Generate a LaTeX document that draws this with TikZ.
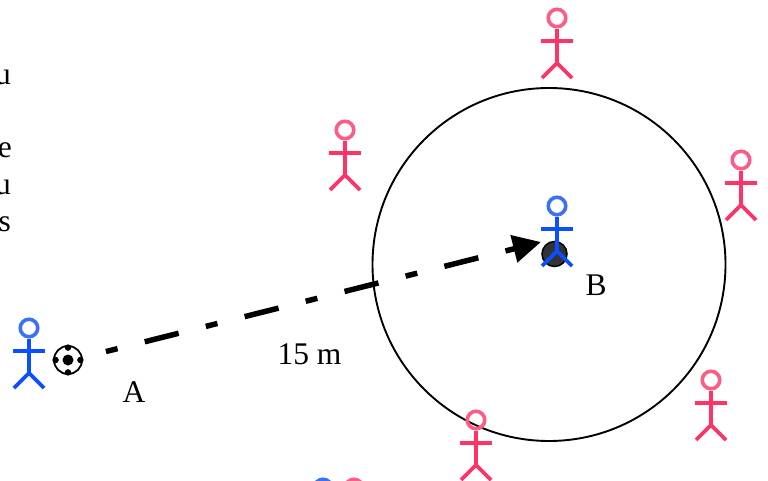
\documentclass[tikz,border=0pt]{standalone}
\usepackage{fontspec}
\setmainfont{Liberation Serif}
\usetikzlibrary{arrows.meta}

\definecolor{bluebody}{HTML}{0A50FF}
\definecolor{bluehead}{HTML}{3D70F5}
\definecolor{redbody}{HTML}{FF3366}
\definecolor{redhead}{HTML}{FF5C85}

\begin{document}
\begin{tikzpicture}[
    x=1pt, y=-1pt,
    label/.style={inner sep=0pt, font=\fontsize{31.5}{36}\selectfont},
    cutoff/.style={label, anchor=base east},
    head/.style={circle, draw, line width=3.6pt, inner sep=0pt, minimum size=17.5pt},
    balldot/.style={circle, fill=black, inner sep=0pt, minimum size=#1},
    pass/.style={line width=5.5pt, dash pattern=on 12pt off 28pt on 35pt off 28pt,
                 -{Triangle[length=28pt, width=27pt]}},
    pics/person/.style 2 args={code={
        \node[head, draw=#2] (-head) at (0,0) {};
        \draw[#1, line width=3.8pt] (-head.south) -- (0,45);
        \draw[#1, line width=3.8pt] (-16,23) -- (16,23);
        \draw[#1, line width=3.8pt] (-15,60) -- (0,45) -- (15,60);
    }},
]
    \useasboundingbox (0,0) rectangle (768,481);
    \clip (0,0) rectangle (768,481);

    \node[circle, draw, line width=1.9pt, inner sep=0pt, minimum size=353pt] (zone) at (549,264.5) {};
    \node[circle, draw, line width=1.5pt, fill=black!80, inner sep=0pt, minimum size=25pt] (target) at (554.5,254) {};

    % players
    \foreach \px/\py/\pname in {557/18/r1, 345/130/r2, 741/160/r3, 711/380/r4, 476/420/r5, 354/488/r6}
        \pic (\pname) at (\px,\py) {person={redbody}{redhead}};
    \foreach \px/\py/\pname in {29/328/b1, 557/206/b2, 323/488/b3}
        \pic (\pname) at (\px,\py) {person={bluebody}{bluehead}};

    % ball
    \node[circle, draw, line width=1.8pt, fill=white, inner sep=0pt, minimum size=28pt] (ball) at (68,360) {};
    \node[balldot=11pt] (ballc) at (ball.center) {};
    \foreach \a in {0,90,180,270}
        \node[balldot=6.5pt] (ball\a) at (ball.\a) [xshift={-2.5pt*cos(\a)}, yshift={-2.5pt*sin(\a)}] {};

    \coordinate (tip) at (541,242);
    \draw[pass, shorten <=24pt] (ball.10) -- (tip);

    \node[label, anchor=base] (labA) at (134,402) {A};
    \node[label, anchor=base] (labB) at (596,295) {B};
    \node[label, anchor=base] (dist) at (309.5,364) {15 m};

    \node[cutoff] (cut1) at (11,85)  {u};
    \node[cutoff] (cut2) at (12,158) {e};
    \node[cutoff] (cut3) at (11,195) {u};
    \node[cutoff] (cut4) at (11,231) {s};
\end{tikzpicture}
\end{document}
